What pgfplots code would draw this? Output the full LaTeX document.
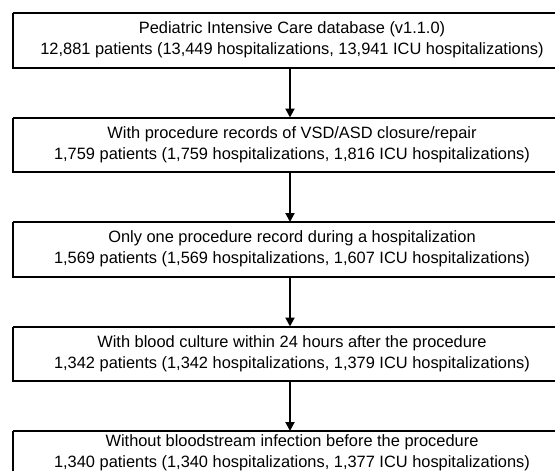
\documentclass[border=0pt]{standalone}
\usepackage{pgfplots}
\pgfplotsset{compat=1.18}
\usetikzlibrary{arrows.meta}
\usepackage{fontspec}
\setmainfont{Liberation Sans}
\begin{document}
\begin{tikzpicture}
\begin{axis}[
  width=555pt, height=471pt, scale only axis,
  xmin=0, xmax=555, ymin=0, ymax=471, y dir=reverse,
  hide axis, clip=true,
]
% boxes (pixel coordinates, y downward)
\addplot[black, line width=2pt, line join=miter] coordinates {(13,13)(567,13)(567,67.5)(13,67.5)(13,13)};
\addplot[black, line width=2pt, line join=miter] coordinates {(13,117.5)(567,117.5)(567,172)(13,172)(13,117.5)};
\addplot[black, line width=2pt, line join=miter] coordinates {(13,222)(567,222)(567,276.5)(13,276.5)(13,222)};
\addplot[black, line width=2pt, line join=miter] coordinates {(13,326.5)(567,326.5)(567,381)(13,381)(13,326.5)};
\addplot[black, line width=2pt, line join=miter] coordinates {(13,431)(567,431)(567,486)(13,486)(13,431)};
% arrows
\addplot[black, line width=2pt, -{Triangle[width=9pt,length=9pt]}] coordinates {(290,67.5)(290,117.5)};
\addplot[black, line width=2pt, -{Triangle[width=9pt,length=9pt]}] coordinates {(290,172)(290,222)};
\addplot[black, line width=2pt, -{Triangle[width=9pt,length=9pt]}] coordinates {(290,276.5)(290,326.5)};
\addplot[black, line width=2pt, -{Triangle[width=9pt,length=9pt]}] coordinates {(290,381)(290,431)};
% texts
\tikzset{lbl/.style={align=center, font=\fontsize{16.4}{21}\selectfont, inner sep=0pt, text=black}}
\node[lbl] at (axis cs:292,40) {Pediatric Intensive Care database (v1.1.0)\\12,881 patients (13,449 hospitalizations, 13,941 ICU hospitalizations)};
\node[lbl] at (axis cs:292,144.5) {With procedure records of VSD/ASD closure/repair\\1,759 patients (1,759 hospitalizations, 1,816 ICU hospitalizations)};
\node[lbl] at (axis cs:292,249) {Only one procedure record during a hospitalization\\1,569 patients (1,569 hospitalizations, 1,607 ICU hospitalizations)};
\node[lbl] at (axis cs:292,353.5) {With blood culture within 24 hours after the procedure\\1,342 patients (1,342 hospitalizations, 1,379 ICU hospitalizations)};
\node[lbl] at (axis cs:292,453) {Without bloodstream infection before the procedure\\1,340 patients (1,340 hospitalizations, 1,377 ICU hospitalizations)};
\end{axis}
\path (current axis.south west) rectangle (current axis.north east);
\end{tikzpicture}
\end{document}
